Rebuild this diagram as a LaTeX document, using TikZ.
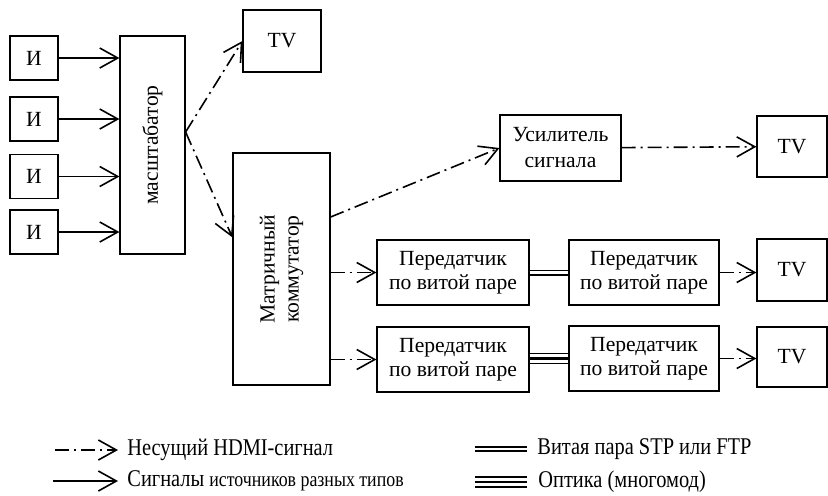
\documentclass[tikz,border=0pt]{standalone}
\usepackage{fontspec}
\setmainfont{Liberation Serif}
\newfontfamily\legfont[FakeStretch=0.85]{Liberation Serif}
\usetikzlibrary{arrows.meta}

\begin{document}
\begin{tikzpicture}[x=0.5pt, y=-0.5pt, >={Straight Barb[length=9pt, width=10pt]},
    blok/.style={draw, line width=0.6pt, rectangle, inner sep=0pt, align=center, font=\fontsize{10.8}{12}\selectfont},
    sig/.style={->, line width=0.8pt},
    hdmi/.style={->, line width=0.8pt, dash pattern=on 7pt off 2.5pt on 1pt off 2.5pt},
    vitaya/.style={double, line width=0.8pt, double distance=1.4pt},
    optika/.style={draw=white, line width=4.2pt, preaction={draw=black, line width=5.6pt}, postaction={draw=black, line width=1.3pt}},
    leg/.style={anchor=west, inner sep=0pt, font=\legfont\fontsize{12}{14}\selectfont}]

\useasboundingbox (0,0) rectangle (828,495);

% sources
\foreach \n/\y in {1/58, 2/119, 3/176.5, 4/232}
  \node[blok, minimum width=24pt, minimum height=22pt] (i\n) at (34,\y) {И};

% scaler
\node[blok, minimum width=32.5pt, minimum height=109pt] (mash) at (152.5,145) {};
\node[rotate=90, font=\fontsize{10.8}{12}\selectfont] (mashtxt) at (mash) {масштабатор};
\foreach \n in {1,...,4}
  \draw[sig] (i\n) -- (i\n -| mash.west);

% TV next to scaler
\node[blok, minimum width=39pt, minimum height=31pt] (tv0) at (282,41) {TV};

% matrix switch
\node[blok, minimum width=48.5pt, minimum height=116pt] (matr) at (281.5,269) {};
\node[rotate=90, align=center, font=\fontsize{10.8}{12}\selectfont] (matrtxt) at (matr) {Матричный\\коммутатор};

\draw[hdmi] ([yshift=6.5pt]mash.east) -- (tv0.west);
\draw[hdmi] ([yshift=6.5pt]mash.east) -- ([yshift=-42.5pt]matr.north west);

% amplifier branch
\node[blok, minimum width=60.5pt, minimum height=33pt] (usil) at (560.5,148) {Усилитель\\[1pt]сигнала};
\node[blok, minimum width=35pt, minimum height=30.5pt] (tv1) at (792,146.5) {TV};
\draw[hdmi] ([yshift=26pt]matr.east) -- (usil.west);
\draw[hdmi] (usil) -- (tv1);

% twisted pair branch
\node[blok, minimum width=76pt, minimum height=32.5pt] (p1a) at (453,272.5) {Передатчик\\по витой паре};
\node[blok, minimum width=75pt, minimum height=32.5pt] (p1b) at (644,272.5) {Передатчик\\по витой паре};
\node[blok, minimum width=35pt, minimum height=31pt] (tv2) at (792,270) {TV};
\draw[hdmi] (matr.east |- p1a) -- (p1a);
\draw[vitaya] (p1a) -- (p1b);
\draw[hdmi] (p1b) -- (p1b -| tv2.west);

% optics branch
\node[blok, minimum width=76pt, minimum height=32.5pt] (p2a) at (453,359.5) {Передатчик\\по витой паре};
\node[blok, minimum width=75pt, minimum height=32.5pt] (p2b) at (644,358.5) {Передатчик\\по витой паре};
\node[blok, minimum width=35pt, minimum height=30pt] (tv3) at (792,357) {TV};
\draw[hdmi] (matr.east |- p2a) -- (p2a);
\draw[optika] (p2a.east |- p2b) -- (p2b);
\draw[hdmi] (p2b) -- (p2b -| tv3.west);

% legend
\coordinate (l1a) at (55,450);
\coordinate (l1b) at (118,450);
\coordinate (l2a) at (53,481);
\coordinate (l2b) at (118,481);
\coordinate (l3a) at (475,449);
\coordinate (l3b) at (527,449);
\coordinate (l4a) at (475,482);
\coordinate (l4b) at (527,482);
\draw[hdmi] (l1a) -- (l1b);
\draw[sig] (l2a) -- (l2b);
\draw[vitaya] (l3a) -- (l3b);
\draw[optika] (l4a) -- (l4b);
\node[leg] (l1t) at (127,450) {Несущий HDMI-сигнал};
\node[leg] (l2t) at (127,481) {Сигналы {\fontsize{10.5}{12}\selectfont источников разных типов}};
\node[leg] (l3t) at (537,449) {Витая пара STP или FTP};
\node[leg] (l4t) at (538,482) {Оптика (многомод)};

\end{tikzpicture}
\end{document}
